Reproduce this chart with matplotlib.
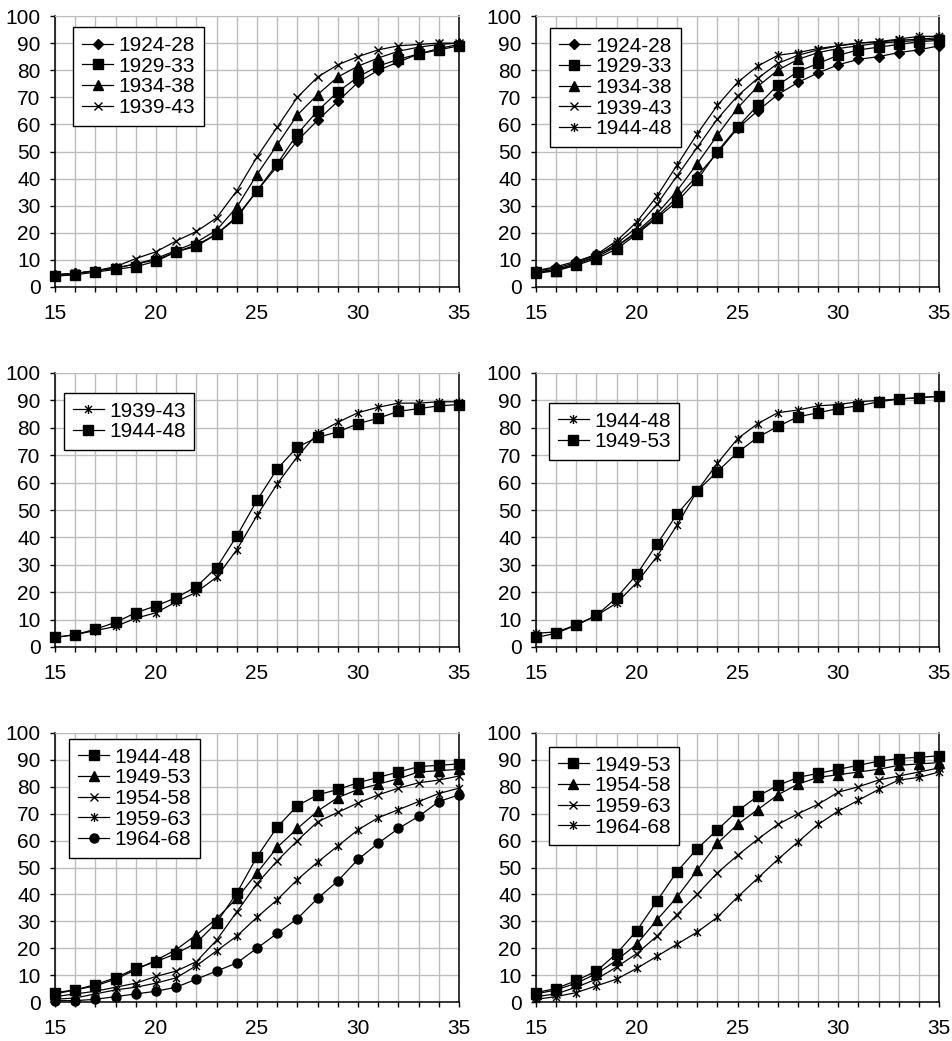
import numpy as np
import matplotlib
matplotlib.use('Agg')
import matplotlib.pyplot as plt
from matplotlib.path import Path

plt.rcParams['font.family'] = ['Liberation Sans', 'DejaVu Sans']

# ages on x axis
ages = list(range(15, 36))

# panel 1
p1_1924_28 = [4.5, 5, 6, 7, 8.5, 10, 13, 15.5, 19.5, 26, 35.5, 44.5, 54, 61.5, 68.5, 75.5, 80, 83, 86, 88, 89.5]
p1_1929_33 = [4, 4.5, 5.5, 6.5, 7.5, 9.5, 13, 15, 19.5, 25.5, 35.5, 45.5, 56.5, 65, 72, 77.5, 81.5, 84, 86, 87.5, 89]
p1_1934_38 = [4.5, 5, 6, 7, 8.5, 10.5, 13.5, 16.5, 21, 29.5, 41.5, 52.5, 63.5, 71, 77.5, 81.5, 84.5, 87, 88.5, 89.5, 90]
p1_1939_43 = [4.5, 5, 6, 7.5, 10.5, 13, 17, 20.5, 25.5, 35.5, 48, 59, 70, 77.5, 82, 85, 87.5, 89, 89.5, 90, 90]

# panel 2
p2_1924_28 = [6, 7.5, 9.5, 12, 15, 20, 26, 33, 41, 49.5, 58.5, 65, 71, 75.5, 79, 82, 84, 85, 86.5, 87.5, 89]
p2_1929_33 = [5.5, 6, 8, 10.5, 14, 19.5, 25.5, 31.5, 39.5, 50, 59, 67, 74.5, 79.5, 82.5, 85.5, 87.5, 88.5, 89.5, 90.5, 91]
p2_1934_38 = [5, 6, 8.5, 11, 15, 20.5, 27, 35.5, 45.5, 56, 66, 74, 80, 84, 86.5, 88, 89, 90, 90.5, 91, 91.5]
p2_1939_43 = [5.5, 6.5, 8.5, 11.5, 16, 22, 30.5, 41, 51.5, 62, 70.5, 77, 82.5, 85.5, 87.5, 89, 90, 90.5, 91, 91.5, 92]
p2_1944_48 = [6, 7, 9, 12, 17, 24, 33.5, 45, 56.5, 67, 75.5, 81.5, 85.5, 86.5, 88, 89, 90, 90.5, 91.5, 92.5, 92.5]

# panel 3
p3_1939_43 = [3.5, 4.5, 6, 7.5, 10.5, 12.5, 16.5, 20, 25.5, 35.5, 48, 59.5, 69.5, 78, 82, 85.5, 87.5, 89, 89, 89.5, 89.5]
p3_1944_48 = [3.5, 4.5, 6.5, 9, 12.5, 15, 18, 22, 29, 40.5, 53.5, 65, 73, 76.5, 78.5, 81.5, 83.5, 86, 87, 88, 88.5]

# panel 4
p4_1944_48 = [5, 5.5, 8, 11.5, 16, 23.5, 33, 44.5, 57, 67, 76, 81.5, 85.5, 86.5, 88, 88.5, 89.5, 90, 90.5, 91, 91.5]
p4_1949_53 = [3.5, 5, 8, 11.5, 18, 26.5, 37.5, 48.5, 57, 64, 71, 76.5, 80.5, 84, 85.5, 87, 88, 89.5, 90.5, 91, 91.5]

# panel 5
p5_1944_48 = [3.5, 4.5, 6.5, 9, 12.5, 15, 18, 22, 29.5, 40.5, 54, 65, 73, 77, 79, 81.5, 83.5, 85.5, 87.5, 88, 88.5]
p5_1949_53 = [3, 4.5, 6, 8.5, 12, 15.5, 19.5, 25, 31, 38.5, 48, 57.5, 64.5, 71, 76, 79, 81, 83, 85.5, 86, 86.5]
p5_1954_58 = [2, 3, 4, 5.5, 7, 9.5, 11.5, 15, 23, 33.5, 44, 52.5, 60, 67, 70.5, 74, 77, 79.5, 81.5, 82.5, 84]
p5_1959_63 = [1, 1.5, 3, 4.5, 5.5, 7, 9, 13.5, 19, 24.5, 31.5, 38, 45.5, 52, 58, 64, 68.5, 71.5, 74.5, 77.5, 79.5]
p5_1964_68 = [0.5, 0.5, 1, 2, 3, 4, 5.5, 8.5, 11.5, 14.5, 20, 25.5, 31, 38.5, 45, 53, 59, 64.5, 69, 74.5, 77]

# panel 6
p6_1949_53 = [3.5, 5, 8, 11.5, 18, 26.5, 37.5, 48.5, 57, 64, 71, 76.5, 80.5, 83.5, 85, 86.5, 88, 89.5, 90.5, 91, 91.5]
p6_1954_58 = [3, 4.5, 7, 10.5, 15.5, 21.5, 30.5, 39, 49, 59, 66, 71.5, 77, 81, 83.5, 84.5, 85.5, 86.5, 88, 88.5, 89]
p6_1959_63 = [2, 3, 5.5, 8.5, 13, 18, 24.5, 32.5, 40, 48, 54.5, 60.5, 66, 70, 73.5, 78, 80, 82.5, 84, 85.5, 87]
p6_1964_68 = [1, 2, 3.5, 6, 8.5, 12.5, 17, 21.5, 26, 31.5, 39, 46, 53, 59.5, 66, 71, 75, 79, 82.5, 83.5, 85.5]

# excel-like star marker: x with a vertical bar
star = Path([(-1, -1), (1, 1), (-1, 1), (1, -1), (0, -1.3), (0, 1.3)],
            [Path.MOVETO, Path.LINETO, Path.MOVETO, Path.LINETO, Path.MOVETO, Path.LINETO])

mk = {'D': ('D', 5), 's': ('s', 6.5), '^': ('^', 7), 'x': ('x', 5.5),
      'star': (star, 6.5), 'o': ('o', 6.5)}

panels = [
    [('1924-28', p1_1924_28, 'D'), ('1929-33', p1_1929_33, 's'),
     ('1934-38', p1_1934_38, '^'), ('1939-43', p1_1939_43, 'x')],
    [('1924-28', p2_1924_28, 'D'), ('1929-33', p2_1929_33, 's'),
     ('1934-38', p2_1934_38, '^'), ('1939-43', p2_1939_43, 'x'),
     ('1944-48', p2_1944_48, 'star')],
    [('1939-43', p3_1939_43, 'star'), ('1944-48', p3_1944_48, 's')],
    [('1944-48', p4_1944_48, 'star'), ('1949-53', p4_1949_53, 's')],
    [('1944-48', p5_1944_48, 's'), ('1949-53', p5_1949_53, '^'),
     ('1954-58', p5_1954_58, 'x'), ('1959-63', p5_1959_63, 'star'),
     ('1964-68', p5_1964_68, 'o')],
    [('1949-53', p6_1949_53, 's'), ('1954-58', p6_1954_58, '^'),
     ('1959-63', p6_1959_63, 'x'), ('1964-68', p6_1964_68, 'star')],
]

# axes boxes in pixels (left, right, top, bottom) and legend anchor (axes frac)
W, H = 952, 1041
boxes = [(55, 459, 16, 287), (536, 939, 16, 287),
         (55, 459, 373, 647), (536, 939, 373, 647),
         (55, 459, 733, 1002), (536, 939, 733, 1002)]
leg_pos = [(0.045, 0.959), (0.035, 0.956), (0.022, 0.927),
           (0.032, 0.891), (0.035, 0.978), (0.032, 0.948)]

fig = plt.figure(figsize=(W / 100, H / 100), dpi=100)

for i in range(6):
    l, r, t, b = boxes[i]
    ax = fig.add_axes([l / W, 1 - b / H, (r - l) / W, (b - t) / H])
    for name, vals, m in panels[i]:
        marker, ms = mk[m]
        ax.plot(ages, vals, color='black', lw=0.9, marker=marker, markersize=ms,
                markerfacecolor='black', markeredgecolor='black', markeredgewidth=1,
                label=name, clip_on=False, zorder=3)
    ax.set_xlim(15, 35)
    ax.set_ylim(0, 100)
    ax.set_xticks([15, 20, 25, 30, 35])
    ax.set_xticks(range(15, 36), minor=True)
    ax.set_yticks(range(0, 101, 10))
    ax.grid(True, which='both', color='#bdbdbd', lw=1)
    ax.set_axisbelow(True)
    ax.tick_params(axis='both', which='both', direction='out', length=3.5, width=1,
                   labelsize=15, color='black', pad=7)
    ax.tick_params(axis='x', which='both', pad=9)
    for s in ['left', 'bottom', 'right']:
        ax.spines[s].set_color('black')
        ax.spines[s].set_linewidth(1.1)
    ax.spines['top'].set_color('#bdbdbd')
    leg = ax.legend(loc='upper left', bbox_to_anchor=leg_pos[i], borderaxespad=0,
                    fontsize=15, frameon=True, fancybox=False, framealpha=1,
                    edgecolor='black', numpoints=1, handlelength=1.5,
                    handletextpad=0.25, borderpad=0.42, labelspacing=0.08)
    leg.get_frame().set_linewidth(1)

fig.savefig('out.png', dpi=100)
